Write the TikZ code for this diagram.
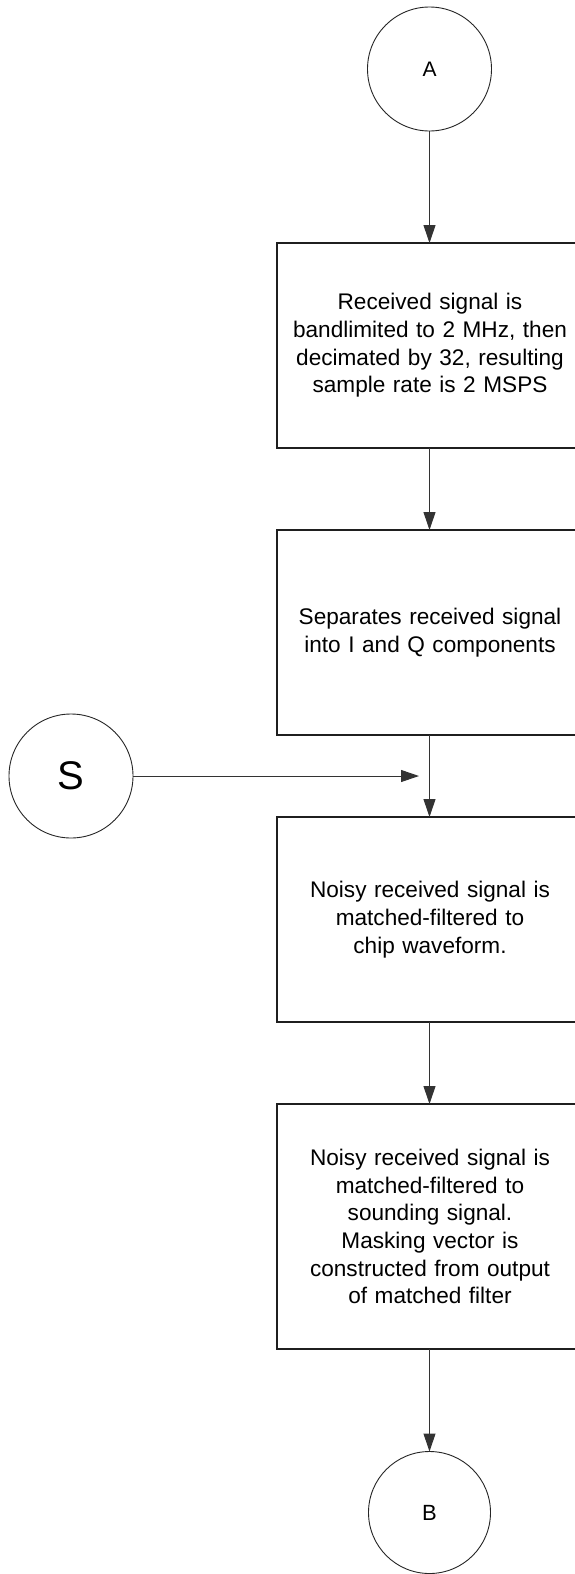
\documentclass[tikz,border=0pt]{standalone}
\usepackage{fontspec}
\setmainfont{Liberation Sans}
\usetikzlibrary{arrows.meta}
\begin{document}
\begin{tikzpicture}[x=1pt,y=-1pt,
  every node/.style={inner sep=0pt,outer sep=0pt},
  stepbox/.style={draw=black!88,line width=1.1pt,rectangle,minimum width=306pt,
     text width=290pt,align=center,font=\fontsize{22.6}{27.7}\selectfont},
  conn/.style={circle,draw=black!85,line width=0.9pt},
  flow/.style={draw=black!80,line width=1pt,-{Triangle[length=18pt,width=12pt]}}]
\useasboundingbox (0,0) rectangle (575,1574);
\fill[white] (0,0) rectangle (575,1574);
\node[conn,minimum size=124pt,font=\fontsize{21}{24}\selectfont] (A) at (429.5,69) {A};
\node[stepbox,minimum height=205pt] (b1) at (430,345.5) {Received signal is\\bandlimited to 2 MHz, then\\decimated by 32, resulting\\sample rate is 2 MSPS};
\node[stepbox,minimum height=205pt] (b2) at (430,632.5) {Separates received signal\\into I and Q components};
\node[stepbox,minimum height=205pt] (b3) at (430,919.5) {Noisy received signal is\\matched-filtered to\\chip waveform.};
\node[stepbox,minimum height=245pt] (b4) at (430,1226.5) {Noisy received signal is\\matched-filtered to\\sounding signal.\\Masking vector is\\constructed from output\\of matched filter};
\node[conn,minimum size=122pt,font=\fontsize{22}{25}\selectfont] (B) at (429.5,1512.5) {B};
\node[conn,minimum size=124pt,font=\fontsize{40}{44}\selectfont] (S) at (71,776) {S};
\coordinate (stip) at (419,776);
\draw[flow] (A) -- (A|-b1.north);
\draw[flow] (b1.south-|A) -- (A|-b2.north);
\draw[flow] (b2.south-|A) -- (A|-b3.north);
\draw[flow] (b3.south-|A) -- (A|-b4.north);
\draw[flow] (b4.south-|A) -- (B);
\draw[flow] (S) -- (stip);
\end{tikzpicture}
\end{document}
